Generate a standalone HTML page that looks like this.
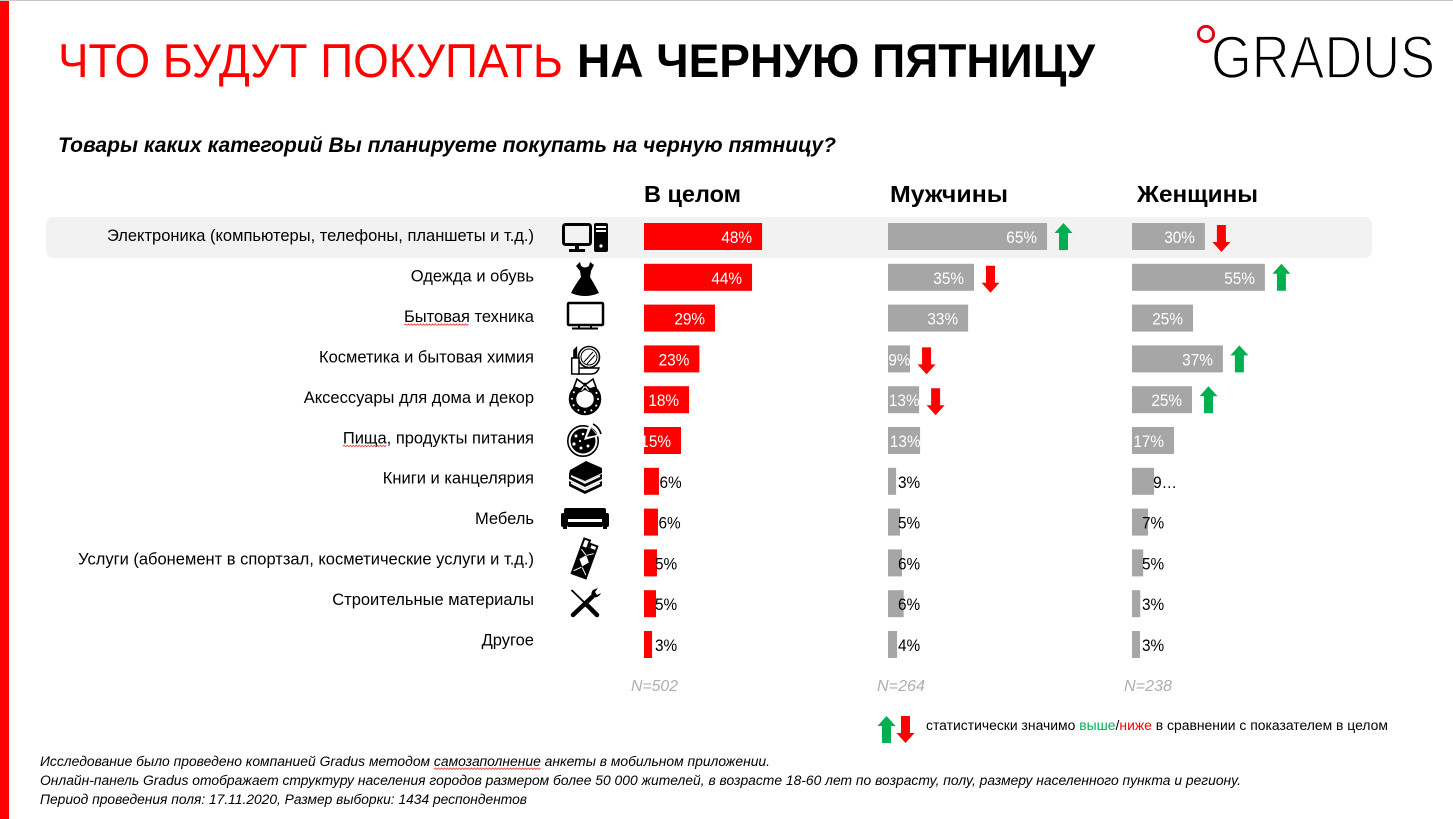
<!DOCTYPE html>
<html lang="ru">
<head>
<meta charset="utf-8">
<title>Что будут покупать на черную пятницу</title>
<style>
html,body{margin:0;padding:0;background:#fff;}
body{width:1453px;height:819px;overflow:hidden;}
svg{display:block;font-family:"Liberation Sans","Noto Sans CJK SC",sans-serif;}
</style>
</head>
<body>
<svg id="chart" width="1453" height="819" viewBox="0 0 1453 819" xmlns="http://www.w3.org/2000/svg">
  <rect x="0" y="0" width="1453" height="819" fill="#fff"/>
  <rect x="0" y="0" width="1453" height="1" fill="#c8c8c8"/>
  <rect x="0" y="1" width="9" height="818" fill="#ff0000"/>

  <text x="58" y="77" font-size="47" fill="#ff0000" textLength="505" lengthAdjust="spacingAndGlyphs">ЧТО БУДУТ ПОКУПАТЬ</text>
  <text x="577" y="77" font-size="47" font-weight="700" fill="#000" textLength="518" lengthAdjust="spacingAndGlyphs">НА ЧЕРНУЮ ПЯТНИЦУ</text>

  <g>
    <circle cx="1206" cy="34" r="7.6" fill="none" stroke="#e30613" stroke-width="3"/>
    <text x="1211" y="78" font-size="60" fill="#000" stroke="#fff" stroke-width="1.7" textLength="224" lengthAdjust="spacingAndGlyphs">GRADUS</text>
  </g>

  <text x="58" y="152" font-size="21" font-weight="700" font-style="italic" fill="#000" textLength="778" lengthAdjust="spacingAndGlyphs">Товары каких категорий Вы планируете покупать на черную пятницу?</text>

  <text x="644" y="202" font-size="23" font-weight="700" textLength="97" lengthAdjust="spacingAndGlyphs">В целом</text>
  <text x="890" y="202" font-size="23" font-weight="700" textLength="118" lengthAdjust="spacingAndGlyphs">Мужчины</text>
  <text x="1137" y="202" font-size="23" font-weight="700" textLength="121" lengthAdjust="spacingAndGlyphs">Женщины</text>

  <rect x="46" y="217" width="1326" height="41" rx="7" fill="#f2f2f2"/>

  <g id="icons">
    <g>
      <rect x="563.5" y="224.5" width="27" height="20" rx="2" fill="none" stroke="#000" stroke-width="3"/>
      <rect x="575" y="245" width="4" height="5" fill="#000"/>
      <rect x="569" y="249" width="16" height="3" fill="#000"/>
      <rect x="594" y="223" width="14" height="29" rx="2" fill="#000"/>
      <rect x="596" y="226" width="10" height="2" fill="#fff"/>
      <rect x="596" y="230" width="10" height="2" fill="#fff"/>
      <circle cx="601" cy="246" r="1.6" fill="#fff"/>
    </g>
    <g>
      <path d="M580 262l1 4q4 3 8 0l1-4 4 3-3 6-1 6Q595 285 599 293Q585 299 571 293Q575 285 581 277l-1-6-4-5z" fill="#000"/>
    </g>
    <g>
      <rect x="568" y="303" width="35" height="22" rx="1" fill="none" stroke="#000" stroke-width="2.5"/>
      <rect x="578" y="325" width="2" height="3" fill="#000"/>
      <rect x="590" y="325" width="2" height="3" fill="#000"/>
      <rect x="572" y="327.5" width="26" height="2" fill="#000"/>
    </g>
    <g>
      <circle cx="589" cy="357" r="10.5" fill="#fff" stroke="#000" stroke-width="1.6"/>
      <circle cx="589" cy="357" r="8" fill="none" stroke="#000" stroke-width="1"/>
      <path d="M584 362l9-10M587 364l8-9" stroke="#000" stroke-width="1" fill="none"/>
      <path d="M578 368h21q-2 6-8 6h-13z" fill="#fff" stroke="#000" stroke-width="1.4"/>
      <rect x="571.7" y="358" width="7.3" height="16" fill="#fff" stroke="#000" stroke-width="1.5"/>
      <path d="M573.2 358v-8l4-4v12z" fill="#000"/>
    </g>
    <g>
      <circle cx="585" cy="399" r="12.5" fill="none" stroke="#000" stroke-width="7.5"/>
      <circle cx="585" cy="399" r="13" fill="none" stroke="#fff" stroke-width="2" stroke-linecap="round" stroke-dasharray="0.1 6.7"/>
      <path d="M585 385l-8-6-3 8 6 2zM585 385l8-6 3 8-6 2z" fill="#fff" stroke="#000" stroke-width="1.6"/>
      <path d="M583.500 386l-4 6 3-1 2.500-3 2.500 3 3 1-4-6z" fill="#fff" stroke="#000" stroke-width="1"/>
    </g>
    <g>
      <circle cx="583" cy="441" r="15.2" fill="#fff" stroke="#000" stroke-width="1.6"/>
      <circle cx="583" cy="441" r="12.5" fill="#000"/>
      <path d="M584 440l5-15 10 11z" fill="#fff"/>
      <path d="M587 437l4-9 6 7z" fill="#000"/>
      <path d="M593 424q6 3 8 10" stroke="#000" stroke-width="1.6" fill="none"/>
      <g fill="#fff">
        <circle cx="576" cy="436" r="1.5"/><circle cx="583" cy="434" r="1.3"/><circle cx="574" cy="444" r="1.6"/>
        <circle cx="581" cy="448" r="1.5"/><circle cx="588" cy="446" r="1.5"/><circle cx="580" cy="441" r="1.1"/>
      </g>
    </g>
    <g>
      <path d="M569 481l16 8 17-8v5l-17 8-16-8z" fill="#000"/>
      <path d="M569 474l16 8 17-8v5l-17 8-16-8z" fill="#000"/>
      <path d="M570 470l16-9 16 7v5l-17 8-16-7z" fill="#000"/>
      <path d="M571 476l14 7 15-7M571 483l14 7 15-7" stroke="#fff" stroke-width="1.6" fill="none"/>
    </g>
    <g>
      <rect x="564" y="508" width="42" height="11" rx="2" fill="#000"/>
      <rect x="561" y="513" width="7" height="14" rx="2" fill="#000"/>
      <rect x="602" y="513" width="7" height="14" rx="2" fill="#000"/>
      <rect x="570" y="520" width="30" height="1.4" fill="#fff"/>
      <rect x="568" y="522" width="34" height="5" fill="#000"/>
      <rect x="563" y="526" width="4" height="3" fill="#000"/>
      <rect x="603" y="526" width="4" height="3" fill="#000"/>
    </g>
    <g transform="rotate(20 585 560)">
      <rect x="576" y="548" width="17" height="30" fill="#000"/>
      <rect x="577" y="540" width="6" height="9" fill="none" stroke="#000" stroke-width="2"/>
      <rect x="585" y="543" width="7" height="5" fill="none" stroke="#000" stroke-width="2"/>
      <path d="M584.500 555l5 6-5 6-5-6z" fill="#fff"/>
      <path d="M578 551l6 4M591 551l-6 4M578 574l6-6M591 574l-6-6" stroke="#fff" stroke-width="1" fill="none"/>
    </g>
    <g>
      <path d="M571.500 590L587 605" stroke="#000" stroke-width="1.8" fill="none"/>
      <path d="M587 605L597 615" stroke="#000" stroke-width="4.500" stroke-linecap="round" fill="none"/>
      <path d="M573 615L592 597" stroke="#000" stroke-width="4.500" stroke-linecap="round" fill="none"/>
      <path d="M592 597a6 6 0 0 1 1-7l5-2-3 4 2 3 4-2a7 7 0 0 1-9 4z" fill="#000"/>
    </g>
  </g>

  <g id="rows"></g>
  <g id="plot"></g>

  <text x="631" y="691" font-size="16" font-style="italic" fill="#aeaeae" textLength="47" lengthAdjust="spacingAndGlyphs">N=502</text>
  <text x="877" y="691" font-size="16" font-style="italic" fill="#aeaeae" textLength="48" lengthAdjust="spacingAndGlyphs">N=264</text>
  <text x="1124" y="691" font-size="16" font-style="italic" fill="#aeaeae" textLength="48" lengthAdjust="spacingAndGlyphs">N=238</text>

  <g>
    <path d="M886.500 716l9 10h-4.500v17h-9v-17h-4.500z" fill="#00b050"/>
    <path d="M905.500 743l9-10h-4.500v-17h-9v17h-4.500z" fill="#ff0000"/>
    <text x="926" y="730" font-size="13.500" fill="#000" textLength="462" lengthAdjust="spacingAndGlyphs">статистически значимо <tspan fill="#00b050">выше</tspan>/<tspan fill="#ff0000">ниже</tspan> в сравнении с показателем в целом</text>
  </g>

  <g id="footnotes" font-size="13.500" font-style="italic" fill="#000">
    <text id="footnote-method" x="40" y="766" textLength="730" lengthAdjust="spacingAndGlyphs">Исследование было проведено компанией Gradus методом самозаполнение анкеты в мобильном приложении.</text>
    <text x="40" y="785" textLength="1201" lengthAdjust="spacingAndGlyphs">Онлайн-панель Gradus отображает структуру населения городов размером более 50 000 жителей, в возрасте 18-60 лет по возрасту, полу, размеру населенного пункта и региону.</text>
    <text x="40" y="804" textLength="487" lengthAdjust="spacingAndGlyphs">Период проведения поля: 17.11.2020, Размер выборки: 1434 респондентов</text>
  </g>
</svg>

<script>
const categories = [
  "Электроника (компьютеры, телефоны, планшеты и т.д.)",
  "Одежда и обувь",
  "Бытовая техника",
  "Косметика и бытовая химия",
  "Аксессуары для дома и декор",
  "Пища, продукты питания",
  "Книги и канцелярия",
  "Мебель",
  "Услуги (абонемент в спортзал, косметические услуги и т.д.)",
  "Строительные материалы",
  "Другое"
];
const overallValues = [48.2, 44.1, 29.0, 22.6, 18.4, 15.1, 6.1, 5.7, 5.3, 4.9, 3.3];
const menValues = [64.9, 35.1, 32.7, 9.0, 12.7, 13.1, 3.3, 4.9, 5.7, 6.4, 3.7];
const womenValues = [30.0, 54.7, 25.1, 37.4, 24.7, 17.3, 9.1, 6.6, 4.6, 3.4, 3.3];
const menSignificance = [1, -1, 0, -1, -1, 0, 0, 0, 0, 0, 0];
const womenSignificance = [-1, 1, 0, 1, 1, 0, 0, 0, 0, 0, 0];
const overallSignificance = [0, 0, 0, 0, 0, 0, 0, 0, 0, 0, 0];
const flaggedWords = ["Бытовая", "Пища"];

const SVG_NS = "http://www.w3.org/2000/svg";
const ROW_TOP = 223, ROW_STEP = 40.8, BAR_H = 27;
const LABEL_RIGHT = 534, LABEL_BASE = 241, LABEL_STEP = 40.45;
const VALUE_SQUEEZE = 0.93;

const panels = [
  {key: "overall", x0: 644, k: 2.45, values: overallValues, flags: overallSignificance, fill: "#ff0000", insideMin: 10, hugMin: 13.5, hugGap: 0.5, outsideOffset: 11},
  {key: "men", x0: 888, k: 2.45, values: menValues, flags: menSignificance, fill: "#a6a6a6", insideMin: 8, hugMin: 99, hugGap: 0, outsideOffset: 10},
  {key: "women", x0: 1132, k: 2.43, values: womenValues, flags: womenSignificance, fill: "#a6a6a6", insideMin: 10, hugMin: 20, hugGap: -1, outsideOffset: 10}
];

function xScale(panel, v) { return panel.x0 + v * panel.k; }
function yScale(i) { return ROW_TOP + i * ROW_STEP; }
function squeeze(textEl, factor) {
  const len = textEl.getComputedTextLength();
  textEl.setAttribute("textLength", (len * factor).toFixed(1));
  textEl.setAttribute("lengthAdjust", "spacingAndGlyphs");
}
function addSquiggle(textEl, word, parent) {
  const start = textEl.textContent.indexOf(word);
  if (start < 0) { return; }
  const a = textEl.getExtentOfChar(start);
  const b = textEl.getExtentOfChar(start + word.length - 1);
  const y = parseFloat(textEl.getAttribute("y")) + 3;
  let d = "M" + a.x.toFixed(1) + " " + y;
  for (let x = a.x + 1.5, up = true; x < b.x + b.width; x += 1.5, up = !up) {
    d += "L" + x.toFixed(1) + " " + (up ? y - 1 : y + 0.5);
  }
  const wave = document.createElementNS(SVG_NS, "path");
  
  
  wave.setAttribute("d", d);
  wave.setAttribute("fill", "none");
  wave.setAttribute("stroke", "#e85050");
  wave.setAttribute("stroke-width", "0.9");
  parent.appendChild(wave);
}

const rowsGroup = document.getElementById("rows");
categories.forEach(function (name, i) {
  const label = document.createElementNS(SVG_NS, "text");
  
  
  label.setAttribute("x", LABEL_RIGHT);
  label.setAttribute("y", LABEL_BASE + i * LABEL_STEP);
  label.setAttribute("font-size", "16.5");
  label.setAttribute("text-anchor", "end");
  label.setAttribute("fill", "#000");
  label.textContent = name;
  rowsGroup.appendChild(label);
  flaggedWords.forEach(function (word) { addSquiggle(label, word, rowsGroup); });
});
addSquiggle(document.getElementById("footnote-method"), "самозаполнение", document.getElementById("footnotes"));

const plot = document.getElementById("plot");
panels.forEach(function (panel) {
  panel.values.forEach(function (v, i) {
    const end = xScale(panel, v);
    const top = yScale(i);
    const w = end - panel.x0;

    const bar = document.createElementNS(SVG_NS, "rect");
    
    
    bar.setAttribute("x", panel.x0);
    bar.setAttribute("y", top);
    bar.setAttribute("width", w.toFixed(2));
    bar.setAttribute("height", BAR_H);
    bar.setAttribute("fill", panel.fill);
    plot.appendChild(bar);

    const val = document.createElementNS(SVG_NS, "text");
    
    
    val.setAttribute("y", top + 20);
    val.setAttribute("font-size", "16.5");
    let text = Math.round(v) + "%";
    if (v >= panel.insideMin) {
      val.setAttribute("fill", "#fff");
      val.setAttribute("text-anchor", "end");
      val.setAttribute("x", (w >= 35 ? end - 10 : end + 0.5).toFixed(2));
    } else {
      val.setAttribute("fill", "#000");
      const hug = w >= panel.hugMin;
      val.setAttribute("x", (hug ? end + panel.hugGap : panel.x0 + panel.outsideOffset).toFixed(2));
      if (hug && panel.hugGap < 0) { text = Math.round(v) + "…"; }
    }
    val.textContent = text;
    plot.appendChild(val);
    squeeze(val, VALUE_SQUEEZE);

    const flag = panel.flags[i];
    if (flag !== 0) {
      const arrow = document.createElementNS(SVG_NS, "path");
      
      
      const cx = end + 16.5;
      const d = flag > 0
        ? "M0 0l9 10h-4.5v17h-9v-17h-4.5z"
        : "M0 27l9-10h-4.5v-17h-9v17h-4.5z";
      arrow.setAttribute("d", d);
      arrow.setAttribute("transform", "translate(" + cx.toFixed(2) + " " + (top + (flag > 0 ? 0 : 2)) + ")");
      arrow.setAttribute("fill", flag > 0 ? "#00b050" : "#ff0000");
      plot.appendChild(arrow);
    }
  });
});
</script>
</body>
</html>
